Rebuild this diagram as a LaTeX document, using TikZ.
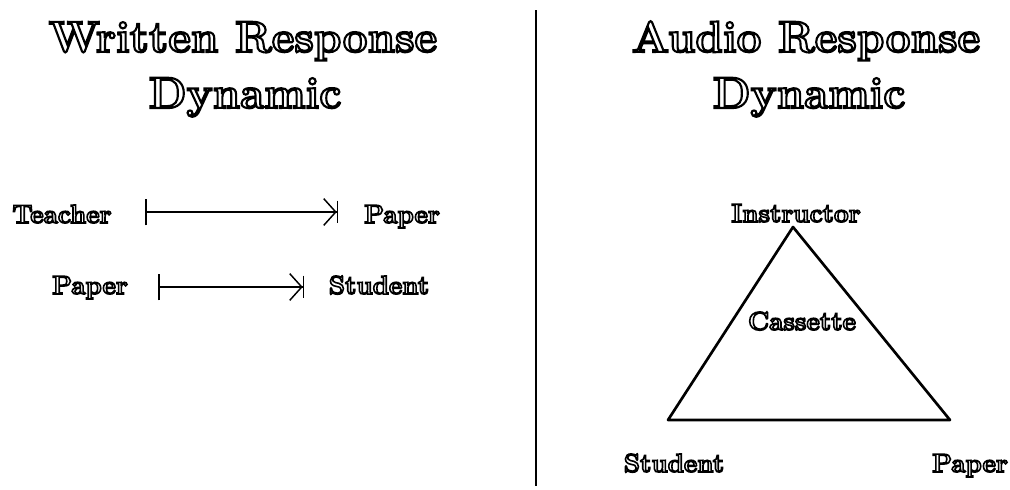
\documentclass[tikz,border=0pt]{standalone}
\usetikzlibrary{arrows.meta}
\newcommand{\otl}[2][1.6]{\special{pdf:literal direct 1 Tr #1 w}#2\special{pdf:literal direct 0 Tr}}
\tikzset{
  title/.style={inner sep=0pt, anchor=base, font=\fontsize{33}{38}\selectfont\bfseries},
  lbl/.style={inner sep=0pt, anchor=base, font=\fontsize{19.5}{22}\selectfont\bfseries},
  conn/.style={line width=1.2pt, {Bar[width=20pt,line width=1.4pt]}-{Straight Barb[length=9pt,width=20pt,line width=1.1pt]Bar[width=17pt,line width=1.2pt,sep=-1pt]}},
  edge/.style={line width=2pt, line join=round}
}
\begin{document}
\begin{tikzpicture}[x=0.75pt,y=-0.75pt]
\useasboundingbox (0,0) rectangle (1010,489);
% divider
\coordinate (dt) at (536,10);
\coordinate (db) at (536,486);
\draw[line width=1.1pt] (dt) -- (db);
% titles
\node[title] (t1) at (243,52) {\otl{Written Response}};
\node[title] (t2) at (245,108) {\otl{Dynamic}};
\node[title] (t3) at (806,52) {\otl{Audio Response}};
\node[title] (t4) at (809,108) {\otl{Dynamic}};
% left: arrows
\node[lbl] (teacher) at (62,223) {\otl[1.2]{Teacher}};
\node[lbl] (paper1) at (402,223) {\otl[1.2]{Paper}};
\coordinate (a1s) at (145,212);
\coordinate (a1e) at (337,212);
\draw[conn] (a1s) -- (a1e);
\node[lbl] (paper2) at (90,294) {\otl[1.2]{Paper}};
\node[lbl] (student1) at (379,294) {\otl[1.2]{Student}};
\coordinate (a2s) at (158,287);
\coordinate (a2e) at (303,287);
\draw[conn] (a2s) -- (a2e);
% right: triangle
\coordinate (ta) at (793,227);
\coordinate (tl) at (668,420);
\coordinate (tr) at (950,420);
\draw[edge] (ta) -- (tl) -- (tr) -- cycle;
\node[lbl] (instr) at (796,222) {\otl[1.2]{Instructor}};
\node[lbl] (cass) at (802,330) {\otl[1.2]{Cassette}};
\node[lbl] (student2) at (674,472) {\otl[1.2]{Student}};
\node[lbl] (paper3) at (970,472) {\otl[1.2]{Paper}};
\end{tikzpicture}
\end{document}
